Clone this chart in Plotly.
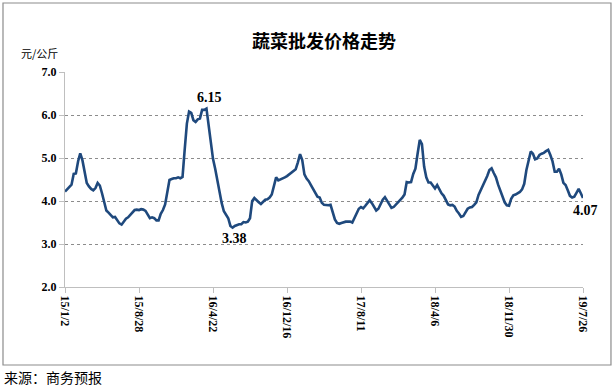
import pandas as pd
import plotly.graph_objects as go

# weekly vegetable wholesale price (元/公斤), 2015-01-02 .. 2019-07-26
prices = [
    4.22, 4.28, 4.32, 4.38, 4.63, 4.64, 4.92, 5.11, 4.95, 4.66,
    4.42, 4.34, 4.28, 4.25, 4.30, 4.42, 4.36, 4.18, 3.95, 3.78,
    3.73, 3.68, 3.62, 3.63, 3.55, 3.48, 3.45, 3.53, 3.59, 3.62,
    3.67, 3.73, 3.79, 3.80, 3.79, 3.81, 3.80, 3.77, 3.67, 3.60,
    3.62, 3.60, 3.55, 3.55, 3.70, 3.79, 3.92, 4.20, 4.49, 4.51,
    4.53, 4.53, 4.55, 4.53, 4.56, 5.20, 5.80, 6.08, 6.05, 5.88,
    5.84, 5.90, 5.92, 6.12, 6.12, 6.15, 5.75, 5.30, 4.98, 4.75,
    4.45, 4.18, 3.95, 3.76, 3.68, 3.60, 3.42, 3.38, 3.42, 3.44,
    3.46, 3.46, 3.51, 3.50, 3.52, 3.60, 4.00, 4.07, 4.01, 3.97,
    3.93, 3.97, 4.03, 4.04, 4.08, 4.15, 4.32, 4.55, 4.48, 4.50,
    4.52, 4.55, 4.58, 4.62, 4.68, 4.71, 4.74, 4.90, 5.09, 4.95,
    4.62, 4.52, 4.46, 4.37, 4.28, 4.17, 4.10, 4.08, 3.96, 3.91,
    3.90, 3.90, 3.91, 3.75, 3.57, 3.49, 3.47, 3.49, 3.51, 3.52,
    3.52, 3.52, 3.50, 3.62, 3.72, 3.82, 3.86, 3.83, 3.89, 3.95,
    4.02, 3.95, 3.85, 3.78, 3.82, 3.93, 4.03, 4.09, 4.00, 3.90,
    3.84, 3.86, 3.91, 3.97, 4.02, 4.08, 4.15, 4.44, 4.43, 4.44,
    4.63, 4.75, 5.10, 5.42, 5.32, 4.80, 4.55, 4.43, 4.43, 4.35,
    4.29, 4.37, 4.27, 4.18, 4.12, 4.03, 3.92, 3.90, 3.91, 3.87,
    3.77, 3.71, 3.63, 3.65, 3.74, 3.82, 3.85, 3.86, 3.91, 3.97,
    4.14, 4.25, 4.34, 4.49, 4.58, 4.72, 4.76, 4.65, 4.55, 4.38,
    4.24, 4.10, 3.97, 3.90, 3.89, 4.05, 4.13, 4.15, 4.18, 4.21,
    4.27, 4.40, 4.72, 4.98, 5.15, 5.10, 4.97, 4.99, 5.07, 5.10,
    5.12, 5.16, 5.19, 5.07, 4.92, 4.68, 4.68, 4.75, 4.62, 4.42,
    4.37, 4.25, 4.12, 4.08, 4.10, 4.19, 4.28, 4.18, 4.07,
]
dates = pd.date_range("2015-01-02", periods=len(prices), freq="7D")

tick_dates = ["2015-01-02", "2015-08-28", "2016-04-22", "2016-12-16",
              "2017-08-11", "2018-04-06", "2018-11-30", "2019-07-26"]
tick_labels = ["15/1/2", "15/8/28", "16/4/22", "16/12/16",
               "17/8/11", "18/4/6", "18/11/30", "19/7/26"]
y_ticks = [2.0, 3.0, 4.0, 5.0, 6.0, 7.0]

# (anchor date, value, yshift, xshift)
labelled = [("2016-04-15", 6.15, 11, -1), ("2016-07-01", 3.38, -11, 0), ("2019-07-26", 4.07, -13, 2)]

serif = "Liberation Serif, Times New Roman, serif"
cjk = "Noto Sans CJK SC, sans-serif"

fig = go.Figure()
fig.add_trace(go.Scatter(
    x=dates, y=prices, mode="lines",
    line=dict(color="#1F497D", width=2.6),
    hoverinfo="x+y", showlegend=False,
))

for d, v, ys, xs in labelled:
    fig.add_annotation(x=d, y=v, xref="x", yref="y", text="<b>%.2f</b>" % v,
                       showarrow=False, yshift=ys, xshift=xs,
                       font=dict(family=serif, size=14, color="#000"))

fig.add_annotation(x=0.5, y=1.149, xref="paper", yref="paper",
                   xanchor="center", yanchor="middle",
                   text="<b>蔬菜批发价格走势</b>", showarrow=False,
                   font=dict(family=cjk, size=18, color="#000"))
fig.add_annotation(x=-0.05, y=1.088, xref="paper", yref="paper",
                   xanchor="center", yanchor="middle",
                   text="元/公斤", showarrow=False,
                   font=dict(family=cjk, size=11, color="#000"))
fig.add_annotation(x=-0.121, y=-0.418, xref="paper", yref="paper",
                   xanchor="left", yanchor="middle",
                   text="来源：商务预报", showarrow=False,
                   font=dict(family=cjk, size=14, color="#000"))

fig.add_shape(type="rect", xref="paper", yref="paper",
              x0=-0.1197, x1=1.054, y0=-0.3628, y1=1.3209,
              line=dict(color="#8c8c8c", width=1.2), fillcolor="rgba(0,0,0,0)")

fig.update_layout(
    width=614, height=388,
    margin=dict(l=65, r=31, t=72, b=101),
    paper_bgcolor="white", plot_bgcolor="white",
    showlegend=False,
    xaxis=dict(
        range=[dates[0], dates[-1]],
        tickvals=tick_dates, ticktext=["<b>%s</b>" % t for t in tick_labels],
        tickangle=90, tickfont=dict(family=serif, size=12, color="#000"),
        showgrid=False, zeroline=False,
        showline=True, linecolor="#bfbfbf", linewidth=1.3,
        ticks="outside", ticklen=5, tickcolor="#bfbfbf",
    ),
    yaxis=dict(
        range=[2.0, 7.0],
        tickvals=y_ticks, ticktext=["<b>%.1f</b>" % v for v in y_ticks],
        tickfont=dict(family=serif, size=12, color="#000"),
        showgrid=True, gridcolor="#8c8c8c", griddash="dot", gridwidth=1,
        zeroline=False,
        showline=True, linecolor="#bfbfbf", linewidth=1.3,
        ticks="outside", ticklen=5, tickcolor="#bfbfbf",
    ),
)

fig.write_html("out.html", config={"displayModeBar": False},
               post_script="document.body.style.margin='0px';")
